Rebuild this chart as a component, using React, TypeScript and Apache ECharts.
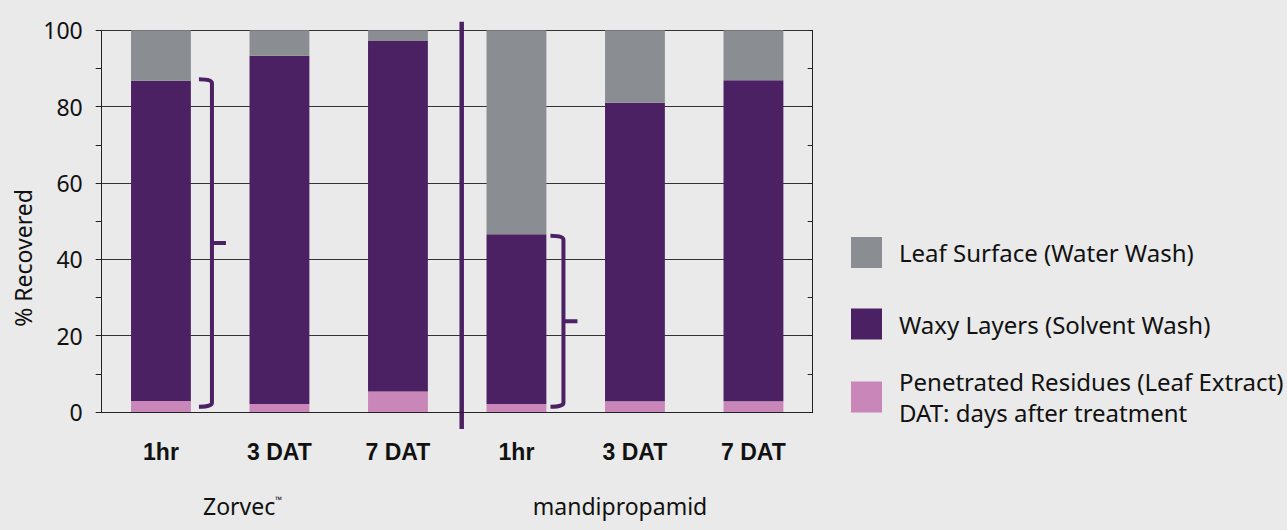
import React, { useEffect, useRef } from "react";
import * as echarts from "echarts";

const categories = ["1hr", "3 DAT", "7 DAT", "1hr", "3 DAT", "7 DAT"];
const groupNames = ["Zorvec", "mandipropamid"];
const penetrated = [2.9, 2.1, 5.4, 2.1, 2.8, 2.8];
const waxy = [83.9, 91.2, 91.8, 44.5, 78.2, 84.1];
const surface = [13.2, 6.7, 2.8, 53.4, 19.0, 13.1];
const seriesNames = [
  "Leaf Surface (Water Wash)",
  "Waxy Layers (Solvent Wash)",
  "Penetrated Residues (Leaf Extract)",
];
const note = "DAT: days after treatment";
const yTicks = [0, 20, 40, 60, 80, 100];
// brackets: category index, low value, high value
const bracketCats = [0, 3];
const bracketLow = [1.4, 1.4];
const bracketHigh = [87.2, 46.2];

const GRAY = "#8A8D91";
const PURPLE = "#4B2163";
const PINK = "#C986B8";
const BG = "#E9EAE9";
const FONT = "'Noto Sans', sans-serif";
const CAT_FONT = "'Liberation Sans', Arial, sans-serif";

const Bracket = echarts.graphic.extendShape({
  shape: { x0: 0, xv: 0, xt: 0, yT: 0, yB: 0, yM: 0, r: 4 },
  buildPath(ctx: any, s: any) {
    ctx.moveTo(s.x0, s.yT);
    ctx.quadraticCurveTo(s.xv, s.yT, s.xv, s.yT + s.r);
    ctx.lineTo(s.xv, s.yB - s.r);
    ctx.quadraticCurveTo(s.xv, s.yB, s.x0, s.yB);
    ctx.moveTo(s.xv, s.yM);
    ctx.lineTo(s.xt, s.yM);
  },
});
echarts.graphic.registerShape("bracket", Bracket);

export default function App() {
  const ref = useRef<HTMLDivElement>(null);
  useEffect(() => {
    if (!ref.current) return;
    const chart = echarts.init(ref.current, undefined, { renderer: "svg" });
    const option: any = {
      animation: false,
      backgroundColor: BG,
      grid: { left: 101.7, right: 474.3, top: 30.3, bottom: 118, containLabel: false },
      legend: [
        {
          orient: "vertical",
          left: 851,
          top: 237,
          padding: 0,
          itemWidth: 31,
          itemHeight: 31,
          itemGap: 40.5,
          icon: "rect",
          selectedMode: false,
          data: [seriesNames[0], seriesNames[1]],
          textStyle: { fontFamily: FONT, fontSize: 24, lineHeight: 31, color: "#111", padding: [0, 0, 0, 12] },
        },
        {
          orient: "vertical",
          left: 851,
          top: 366,
          padding: 0,
          itemWidth: 31,
          itemHeight: 31,
          icon: "rect",
          selectedMode: false,
          data: [seriesNames[2]],
          formatter: (n: string) => n + "\n" + note,
          textStyle: { fontFamily: FONT, fontSize: 24, lineHeight: 31, color: "#111", padding: [0, 0, 0, 12] },
        },
      ],
      xAxis: {
        type: "category",
        data: categories,
        axisLine: { show: true, lineStyle: { color: "#222", width: 1 } },
        axisTick: { show: false },
        axisLabel: { fontFamily: CAT_FONT, fontWeight: "bold", fontSize: 23, color: "#111", margin: 28 },
      },
      yAxis: [
        {
          type: "value",
          min: 0,
          max: 100,
          interval: 20,
          axisLine: { show: true, lineStyle: { color: "#222", width: 1 } },
          axisTick: { show: true, length: 6, lineStyle: { color: "#222" } },
          minorTick: { show: true, splitNumber: 2, length: 6, lineStyle: { color: "#222" } },
          splitLine: { show: true, lineStyle: { color: "#333", width: 1 } },
          axisLabel: {
            fontFamily: FONT,
            fontSize: 23,
            color: "#111",
            margin: 19,
            formatter: (v: number) => (yTicks.includes(v) ? String(v) : ""),
          },
        },
        {
          type: "value",
          position: "right",
          min: 0,
          max: 100,
          interval: 10,
          axisLine: { show: true, lineStyle: { color: "#222", width: 1 } },
          axisTick: { show: true, inside: true, length: 5, lineStyle: { color: "#222" } },
          splitLine: { show: false },
          axisLabel: { show: false },
        },
      ],
      series: [
        {
          name: seriesNames[2],
          type: "bar",
          stack: "total",
          barWidth: "50.5%",
          itemStyle: { color: PINK },
          data: penetrated,
        },
        {
          name: seriesNames[1],
          type: "bar",
          stack: "total",
          barWidth: "50.5%",
          itemStyle: { color: PURPLE },
          data: waxy,
        },
        {
          name: seriesNames[0],
          type: "bar",
          stack: "total",
          barWidth: "50.5%",
          itemStyle: { color: GRAY },
          data: surface,
        },
      ],
    };
    chart.setOption(option);

    const px = (cat: number, v: number) =>
      chart.convertToPixel({ xAxisIndex: 0, yAxisIndex: 0 }, [cat, v]) as number[];
    const bracketOffsets = [38, 34];
    const graphics: any[] = [];
    bracketCats.forEach((c, i) => {
      const top = px(c, bracketHigh[i]);
      const bot = px(c, bracketLow[i]);
      const x0 = top[0] + bracketOffsets[i];
      graphics.push({
        type: "bracket",
        shape: {
          x0,
          xv: x0 + 13,
          xt: x0 + 27,
          yT: top[1],
          yB: bot[1],
          yM: (top[1] + bot[1]) / 2,
          r: 4,
        },
        style: { stroke: PURPLE, lineWidth: 4, fill: null },
      });
    });
    const mid = (px(2, 0)[0] + px(3, 0)[0]) / 2 + 4.5;
    graphics.push({
      type: "line",
      shape: { x1: mid, y1: 21.7, x2: mid, y2: 429 },
      style: { stroke: PURPLE, lineWidth: 4.5 },
    });
    graphics.push({
      type: "text",
      x: 23,
      y: 258,
      rotation: Math.PI / 2,
      style: {
        text: "% Recovered",
        fontFamily: FONT,
        fontSize: 23,
        fill: "#111",
        align: "center",
        verticalAlign: "middle",
      },
    });
    graphics.push({
      type: "text",
      x: 203,
      y: 506,
      style: {
        text: "{a|" + groupNames[0] + "}{b|™}",
        rich: {
          a: { fontFamily: FONT, fontSize: 23, fill: "#111" },
          b: { fontFamily: FONT, fontSize: 9, fill: "#111", verticalAlign: "top", padding: [0, 0, 14, 0] },
        },
        verticalAlign: "middle",
      },
    });
    graphics.push({
      type: "text",
      x: 620,
      y: 506,
      style: {
        text: groupNames[1],
        fontFamily: FONT,
        fontSize: 23,
        fill: "#111",
        align: "center",
        verticalAlign: "middle",
      },
    });
    chart.setOption({ graphic: graphics });

    return () => chart.dispose();
  }, []);
  return (
    <div
      ref={ref}
      style={{ position: "fixed", left: 0, top: 0, width: 1287, height: 530 }}
    />
  );
}
